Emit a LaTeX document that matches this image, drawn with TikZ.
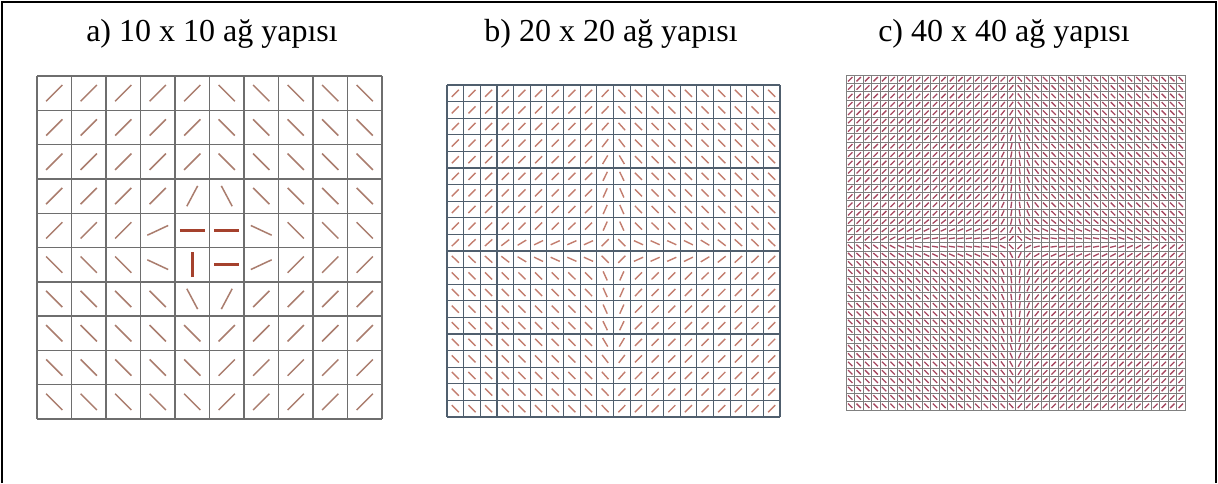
\documentclass[tikz,border=0pt]{standalone}
\usepackage{fontspec}
\setmainfont{Liberation Serif}
\definecolor{gA}{RGB}{110,110,110}
\definecolor{sA}{RGB}{170,125,110}
\definecolor{rA}{RGB}{165,65,45}
\definecolor{gB}{RGB}{80,95,110}
\definecolor{sB}{RGB}{195,125,110}
\definecolor{gC}{RGB}{125,125,125}
\definecolor{sC}{RGB}{165,70,95}
\tikzset{
  frame/.style={line width=2pt, black},
  title/.style={font=\fontsize{32}{38}\selectfont, anchor=base, inner sep=0pt},
  gridA/.style={draw=gA, line width=1.4pt},
  segA/.style={draw=sA, line width=1.5pt},
  segR/.style={draw=rA, line width=2.6pt},
  gridB/.style={draw=gB, line width=1.1pt},
  segB/.style={draw=sB, line width=1.4pt},
  gridC/.style={draw=gC, line width=0.7pt},
  borderC/.style={draw=gray, line width=1pt},
  segC/.style={draw=sC, line width=1.3pt}
}
\begin{document}
\begin{tikzpicture}[x=1pt,y=-1pt]
\useasboundingbox (0,0) rectangle (1218,483);
\fill[white] (0,0) rectangle (1218,483);
% outer frame
\coordinate (fbl) at (2,483);
\coordinate (ftl) at (2,2);
\coordinate (ftr) at (1216,2);
\coordinate (fbr) at (1216,483);
\draw[frame] (fbl) -- (ftl) -- (ftr) -- (fbr);
% titles
\node[title] (ta) at (212,41) {a) 10 x 10 ağ yapısı};
\node[title] (tb) at (611,41) {b) 20 x 20 ağ yapısı};
\node[title] (tc) at (1004,41) {c) 40 x 40 ağ yapısı};

% ---------- grid a (10 x 10) ----------
\foreach \k in {0,...,10} {
  \draw[gridA] ({37+\k*34.5},76) -- ({37+\k*34.5},419);
  \draw[gridA] (37,{76+\k*34.3}) -- (382,{76+\k*34.3});
}
\foreach \row [count=\r from 0] in {
  {45,45,45,45,45,-45,-45,-45,-45,-45},
  {45,45,45,45,45,-45,-45,-45,-45,-45},
  {45,45,45,45,45,-45,-45,-45,-45,-45},
  {45,45,45,45,62,-62,-45,-45,-45,-45},
  {45,45,45,25,1000,1000,-25,-45,-45,-45},
  {-45,-45,-45,-25,1000,1000,25,45,45,45},
  {-45,-45,-45,-45,-62,62,45,45,45,45},
  {-45,-45,-45,-45,-45,45,45,45,45,45},
  {-45,-45,-45,-45,-45,45,45,45,45,45},
  {-45,-45,-45,-45,-45,45,45,45,45,45}}{
  \foreach \a [count=\c from 0] in \row {
    \ifnum\a=1000\relax\else
      \draw[segA] ({37+(\c+0.5)*34.5},{76+(\r+0.5)*34.3}) ++(\a:-11.5pt) -- ++(\a:23pt);
    \fi
  }
}
\draw[segR] ({37+4.5*34.5},{76+4.5*34.3}) ++(0:-12.5pt) -- ++(0:25pt);
\draw[segR] ({37+5.5*34.5},{76+4.5*34.3}) ++(0:-12.5pt) -- ++(0:25pt);
\draw[segR] ({37+4.5*34.5},{76+5.5*34.3}) ++(90:-12.5pt) -- ++(90:25pt);
\draw[segR] ({37+5.5*34.5},{76+5.5*34.3}) ++(0:-12.5pt) -- ++(0:25pt);

% ---------- grid b (20 x 20) ----------
\foreach \k in {0,...,20} {
  \draw[gridB] ({447+\k*16.65},85) -- ({447+\k*16.65},417);
  \draw[gridB] (447,{85+\k*16.6}) -- (780,{85+\k*16.6});
}
\foreach \i in {0,...,19} {
  \foreach \j in {0,...,19} {
    \pgfmathsetmacro\xx{\i-9.5}
    \pgfmathsetmacro\yy{9.5-\j}
    \pgfmathsetmacro\qa{min((\xx/0.7)*(\xx/0.7),20)}
    \pgfmathsetmacro\qb{min((\yy/0.7)*(\yy/0.7),20)}
    \pgfmathsetmacro\dev{35*(exp(-\qa)/(1+(abs(\yy)/6)^8) - exp(-\qb)/(1+(abs(\xx)/6)^8))}
    \pgfmathsetmacro\ang{(\xx*\yy<0 ? 1 : -1)*(45+\dev)}
    \draw[segB] ({447+(\i+0.5)*16.65},{85+(\j+0.5)*16.6}) ++(\ang:-5pt) -- ++(\ang:10pt);
  }
}

% ---------- grid c (40 x 40) ----------
\foreach \k in {0,...,40} {
  \draw[gridC] ({846+\k*8.475},75) -- ({846+\k*8.475},410);
  \draw[gridC] (846,{75+\k*8.375}) -- (1185,{75+\k*8.375});
}
\draw[borderC] (846,75) rectangle (1185,410);
\foreach \i in {0,...,39} {
  \foreach \j in {0,...,39} {
    \pgfmathsetmacro\xx{\i-19.5}
    \pgfmathsetmacro\yy{19.5-\j}
    \pgfmathsetmacro\qa{min((\xx/1.8)*(\xx/1.8),20)}
    \pgfmathsetmacro\qb{min((\yy/1.8)*(\yy/1.8),20)}
    \pgfmathsetmacro\dev{40*(exp(-\qa)/(1+(abs(\yy)/14)^8) - exp(-\qb)/(1+(abs(\xx)/14)^8))}
    \pgfmathsetmacro\ang{(\xx*\yy<0 ? 1 : -1)*(45+\dev)}
    \draw[segC] ({846+(\i+0.5)*8.475},{75+(\j+0.5)*8.375}) ++(\ang:-3.1pt) -- ++(\ang:6.2pt);
  }
}
\end{tikzpicture}
\end{document}
